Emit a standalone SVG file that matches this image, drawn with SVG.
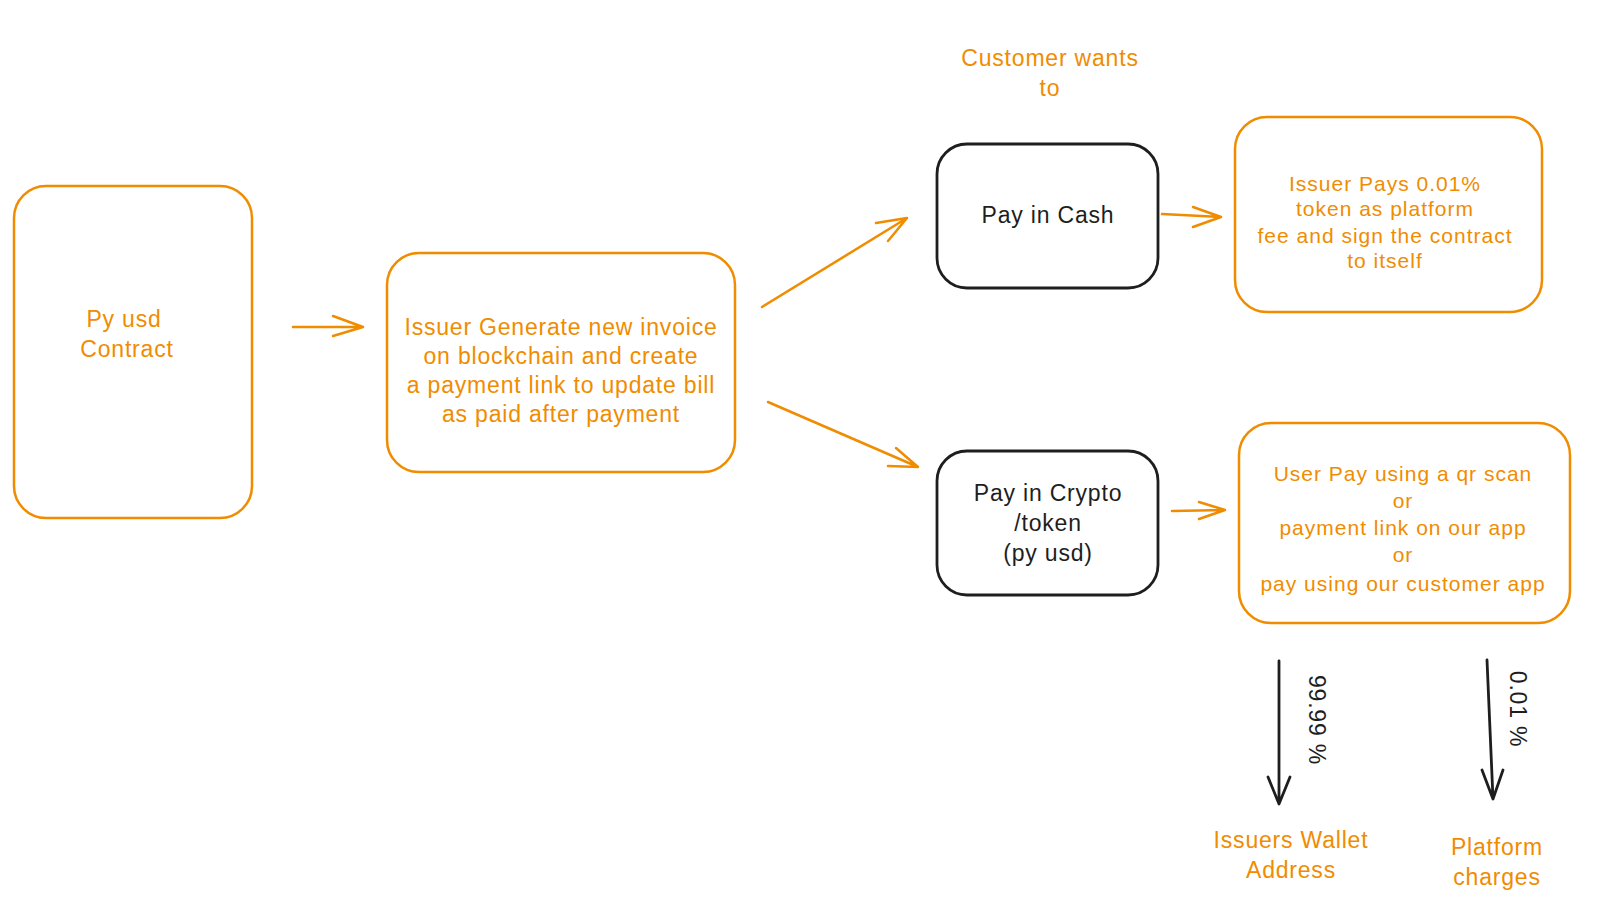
<svg xmlns="http://www.w3.org/2000/svg" width="1608" height="902" viewBox="0 0 1608 902">
<style>
.bg{fill:#ffffff}
.ob{fill:none;stroke:#f08c00;stroke-width:2.5}
.kb{fill:none;stroke:#1e1e1e;stroke-width:2.8}
.oc{fill:none;stroke:#f08c00;stroke-width:2.5;stroke-linecap:round;stroke-linejoin:round}
.kc{fill:none;stroke:#1e1e1e;stroke-width:2.8;stroke-linecap:round;stroke-linejoin:round}
.ot{fill:#f08c00;font-family:"Liberation Sans","DejaVu Sans",sans-serif;font-size:23px;letter-spacing:0.8px;text-anchor:middle;dominant-baseline:central}
.kt{fill:#1e1e1e;font-family:"Liberation Sans","DejaVu Sans",sans-serif;font-size:23px;letter-spacing:0.8px;text-anchor:middle;dominant-baseline:central}
.sm{font-size:21px;letter-spacing:1px}
</style>
<rect class="bg" width="1608" height="902"/>
<g id="n-contract">
<rect class="ob" x="14" y="186" width="238" height="332" rx="32"/>
<text class="ot"><tspan x="124" y="319">Py usd</tspan><tspan x="127" y="349">Contract</tspan></text>
</g>
<g id="n-invoice">
<rect class="ob" x="387" y="253" width="348" height="219" rx="32"/>
<text class="ot"><tspan x="561" y="327">Issuer Generate new invoice</tspan><tspan x="561" y="356">on blockchain and create</tspan><tspan x="561" y="385">a payment link to update bill</tspan><tspan x="561" y="414">as paid after payment</tspan></text>
</g>
<g id="n-customer">
<text class="ot"><tspan x="1050" y="58">Customer wants</tspan><tspan x="1050" y="88">to</tspan></text>
</g>
<g id="n-cash">
<rect class="kb" x="937" y="144" width="221" height="144" rx="30"/>
<text class="kt" x="1048" y="215">Pay in Cash</text>
</g>
<g id="n-crypto">
<rect class="kb" x="937" y="451" width="221" height="144" rx="30"/>
<text class="kt"><tspan x="1048" y="493">Pay in Crypto</tspan><tspan x="1048" y="523">/token</tspan><tspan x="1048" y="553">(py usd)</tspan></text>
</g>
<g id="n-fee">
<rect class="ob" x="1235" y="117" width="307" height="195" rx="32"/>
<text class="ot sm"><tspan x="1385" y="183">Issuer Pays 0.01%</tspan><tspan x="1385" y="208">token as platform</tspan><tspan x="1385" y="235">fee and sign the contract</tspan><tspan x="1385" y="260">to itself</tspan></text>
</g>
<g id="n-userpay">
<rect class="ob" x="1239" y="423" width="331" height="200" rx="32"/>
<text class="ot sm"><tspan x="1403" y="473">User Pay using a qr scan</tspan><tspan x="1403" y="500">or</tspan><tspan x="1403" y="527">payment link on our app</tspan><tspan x="1403" y="554">or</tspan><tspan x="1403" y="583">pay using our customer app</tspan></text>
</g>
<g id="n-wallet">
<text class="ot"><tspan x="1291" y="840">Issuers Wallet</tspan><tspan x="1291" y="870">Address</tspan></text>
</g>
<g id="n-platform">
<text class="ot"><tspan x="1497" y="847">Platform</tspan><tspan x="1497" y="877">charges</tspan></text>
</g>
<g id="connectors">
<path class="oc" d="M293 327 L363 327 M333 316 L363 327 L333 336"/>
<path class="oc" d="M762 307 L907 218 M876 223 L907 218 L888 241"/>
<path class="oc" d="M768 402 L918 467 M896 448 L918 467 L888 466"/>
<path class="oc" d="M1162 214 L1221 217 M1193 207 L1221 217 L1193 227"/>
<path class="oc" d="M1172 511 L1225 510 M1199 502 L1225 510 L1199 519"/>
<path class="kc" d="M1279 661 L1279 804 M1268 777 L1279 804 L1290 777"/>
<path class="kc" d="M1487 660 L1493 799 M1482 770 L1493 799 L1503 770"/>
<text class="kt" transform="translate(1317 720) rotate(90)">99.99 %</text>
<text class="kt" transform="translate(1518 709) rotate(90)">0.01 %</text>
</g>
</svg>
